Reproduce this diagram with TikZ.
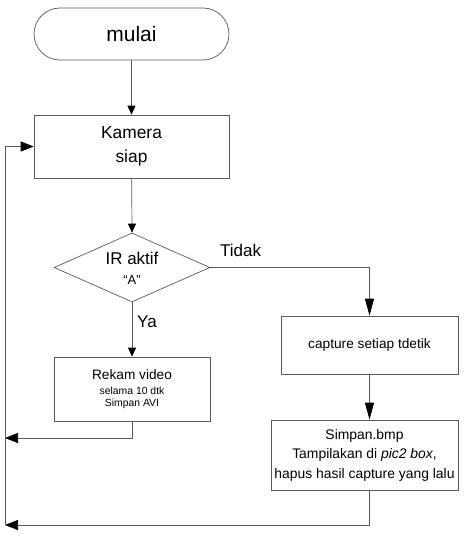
\documentclass[tikz,border=0pt]{standalone}
\usepackage{fontspec}
\setmainfont{Liberation Sans}
\usetikzlibrary{shapes.geometric,arrows.meta}
\definecolor{ln}{HTML}{5A5A5A}
\tikzset{
  box/.style={draw=ln,line width=0.7pt,rectangle,inner sep=0pt,align=center},
  con/.style={draw=ln,line width=0.7pt},
  tipA/.style={-{Triangle[length=9pt,width=8pt,color=black]}},
  tipB/.style={-{Triangle[length=17pt,width=9pt,color=black]}},
  tipC/.style={-{Triangle[length=13pt,width=10pt,color=black]}},
  lbl/.style={font=\fontsize{17}{20}\selectfont,inner sep=0pt}
}
\begin{document}
\begin{tikzpicture}[x=1pt,y=-1pt]
\useasboundingbox (0,0) rectangle (468,546);
\node[box,rounded corners=26pt,minimum width=195pt,minimum height=52pt,font=\fontsize{21}{24}\selectfont] (start) at (131.5,34) {mulai};
\node[box,minimum width=195pt,minimum height=63pt,font=\fontsize{17.4}{24}\selectfont] (kam) at (131.5,146.5) {Kamera\\siap};
\node[draw=ln,line width=0.7pt,diamond,aspect=2.26,inner sep=0pt,minimum width=156pt,minimum height=69pt] (dec) at (132,267.5) {};
\node[inner sep=0pt,align=center] (dectext) at (132,268) {\fontsize{17}{20}\selectfont IR aktif\\[8pt]\fontsize{13}{16}\selectfont “A”};
\node[box,minimum width=156pt,minimum height=64pt] (rek) at (132,389) {\fontsize{13.7}{16}\selectfont Rekam video\\[3pt]\fontsize{10.4}{13}\selectfont selama 10 dtk\\\fontsize{10.4}{13}\selectfont Simpan AVI};
\node[box,minimum width=177pt,minimum height=58pt,font=\fontsize{13.7}{16}\selectfont] (cap) at (369.5,345) {capture setiap tdetik};
\node[box,minimum width=187pt,minimum height=70pt,font=\fontsize{13.9}{19.5}\selectfont] (sim) at (364.5,455) {Simpan.bmp\\Tampilakan di \textit{pic2 box},\\hapus hasil capture yang lalu};
\coordinate (l1) at (5,438);
\coordinate (l2) at (5,525);
\draw[con,tipA] (start) -- (kam);
\draw[con,tipA] (kam) -- (dec.north);
\draw[con,tipA] (dec.south) -- (rek.north);
\draw[con,tipB] (dec.east) -| (cap.north);
\draw[con,tipB] (cap.south) -- (sim.north -| cap.south);
\draw[con,tipC] (rek.south) |- (l1);
\draw[con,tipC] (sim.south -| cap.south) |- (l2);
\draw[con,tipC] (l2) |- (kam.west);
\node[lbl,anchor=base west] (tidak) at (220,256) {Tidak};
\node[lbl,anchor=base west] (ya) at (137,327) {Ya};
\end{tikzpicture}
\end{document}
